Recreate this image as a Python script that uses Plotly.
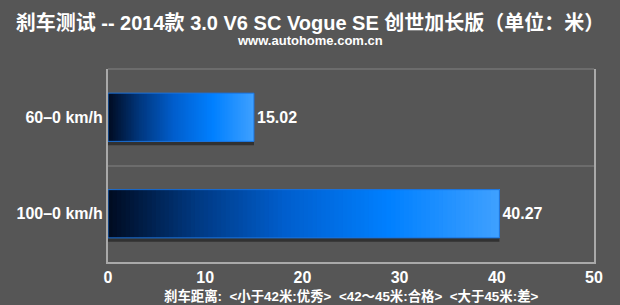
import plotly.graph_objects as go

# ---- data ----
categories = ["60–0 km/h", "100–0 km/h"]
distances = [15.02, 40.27]
x_tick_values = [0, 10, 20, 30, 40, 50]
title_text = "刹车测试 -- 2014款 3.0 V6 SC Vogue SE 创世加长版（单位：米）"
subtitle_text = "www.autohome.com.cn"
footer_text = "刹车距离:  <小于42米:优秀>  <42～45米:合格>  <大于45米:差>"

# ---- style ----
W, H = 620, 305
ML, MR, MT, MB = 108, 26, 69, 43
BG = "#565656"
FONT = "Liberation Sans, Arial, Noto Sans CJK SC, sans-serif"
stops = [(0.0, (0, 12, 34)), (0.22, (0, 56, 128)), (0.45, (0, 94, 205)),
         (0.72, (0, 128, 255)), (1.0, (62, 160, 255))]


def grad(t):
    for (t0, c0), (t1, c1) in zip(stops[:-1], stops[1:]):
        if t <= t1:
            f = (t - t0) / (t1 - t0) if t1 > t0 else 0
            return "rgb(%d,%d,%d)" % tuple(round(a + (b - a) * f) for a, b in zip(c0, c1))
    return "rgb(%d,%d,%d)" % stops[-1][1]


fig = go.Figure()

# shadow
fig.add_trace(go.Bar(
    y=categories, x=distances, base=[0] * len(distances), orientation="h",
    width=0.5, offset=-0.21, marker=dict(color="rgba(20,20,20,0.55)", line=dict(width=0)),
    hoverinfo="skip", showlegend=False,
))

# gradient bars built from overlapping segments
N = 90
for i in range(N):
    fig.add_trace(go.Bar(
        y=categories,
        x=[d * (N - i) / N for d in distances],
        base=[d * i / N for d in distances],
        orientation="h", width=0.5,
        marker=dict(color=grad(i / (N - 1)), line=dict(width=0)),
        hoverinfo="skip", showlegend=False,
    ))

# outline + value labels
fig.add_trace(go.Bar(
    y=categories, x=distances, base=[0] * len(distances), orientation="h", width=0.5,
    marker=dict(color="rgba(0,0,0,0)", line=dict(color="#1d72d8", width=1)),
    text=["%.2f" % d for d in distances], textposition="outside",
    textfont=dict(family=FONT, size=16, color="white", weight="bold"),
    cliponaxis=False, showlegend=False,
))

plot_h = H - MT - MB
fig.update_layout(
    width=W, height=H,
    margin=dict(l=ML, r=MR, t=MT, b=MB),
    paper_bgcolor=BG, plot_bgcolor=BG,
    barmode="overlay", bargap=0.5,
    font=dict(family=FONT, color="white"),
    title=dict(text=title_text, x=0.5, xanchor="center", y=1 - 23 / H, yanchor="middle",
               font=dict(family=FONT, size=20, color="white", weight="bold")),
    xaxis=dict(range=[0, 50], tickvals=x_tick_values, showgrid=False, zeroline=False,
               showline=True, linecolor="#a9a9a9", linewidth=2, ticks="",
               ticklabelstandoff=0,
               tickfont=dict(family=FONT, size=16, color="white", weight="bold"),
               fixedrange=True),
    yaxis=dict(categoryorder="array", categoryarray=categories, autorange="reversed",
               tickson="boundaries", showgrid=True, gridcolor="#6c6c6c", gridwidth=2,
               showline=True, linecolor="#a9a9a9", linewidth=2, mirror=True, ticks="",
               tickfont=dict(family=FONT, size=16, color="white", weight="bold"),
               fixedrange=True),
    shapes=[dict(type="line", xref="paper", yref="paper", x0=0, x1=1, y0=1, y1=1,
                 line=dict(color="#6c6c6c", width=2), layer="below")],
    annotations=[
        dict(text=subtitle_text, xref="paper", yref="paper", x=(310 - ML) / (W - ML - MR),
             y=(H - MB - 41) / plot_h, xanchor="center", yanchor="middle", showarrow=False,
             font=dict(family=FONT, size=13, color="white", weight="bold")),
        dict(text=footer_text, xref="paper", yref="paper", x=0.5,
             y=(H - MB - 296) / plot_h, xanchor="center", yanchor="middle", showarrow=False,
             font=dict(family=FONT, size=13.4, color="white", weight="bold")),
    ],
)

fig.write_html("out.html")
